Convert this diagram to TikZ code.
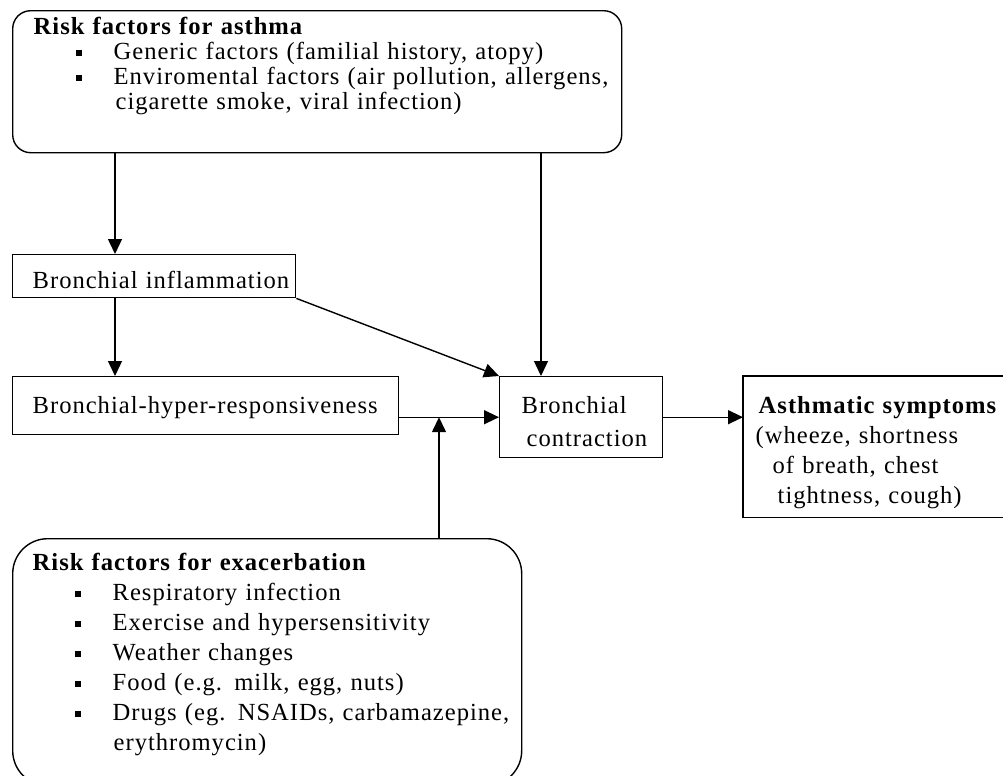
\documentclass[tikz,border=0pt]{standalone}
\usepackage{fontspec}
\setmainfont{Liberation Serif}[LetterSpace=4]
\usetikzlibrary{positioning,arrows.meta,calc}
\newcommand{\vineta}{\rule[2pt]{3pt}{3pt}}
\newcommand{\vinetalinea}[1]{\makebox[40pt][l]{\hspace*{21pt}\vineta}\mbox{#1}}

\begin{document}
\begin{tikzpicture}[x=0.5pt,y=-0.5pt,
  caja/.style={draw, line width=0.7pt, anchor=north west, align=left,
               inner ysep=0pt, font=\fontsize{12.3}{12.5}\selectfont},
  cajaredonda/.style={caja, rounded corners=#1},
  flecha/.style={-{Triangle[length=7.5pt,width=7pt]}, line width=0.7pt}]
  \useasboundingbox (0,0) rectangle (1003,776);
  % cajas
  \node[cajaredonda=9pt, inner xsep=10.5pt, text width=283.5pt,
        text height=12pt, text depth=59pt] (riesgo) at (12,10)
       {\textbf{Risk factors for asthma}\\
        \vinetalinea{Generic factors (familial history, atopy)}\\
        \vinetalinea{Enviromental factors (air pollution, allergens,}\\
        \hspace*{41pt}\mbox{cigarette smoke, viral infection)}};
  \node[caja, inner xsep=10pt, text width=121.5pt,
        text height=17pt, text depth=4.5pt] (inflamacion) at (12,254)
       {\mbox{Bronchial inflammation}};
  \node[caja, inner xsep=10pt, text width=173pt,
        text height=18.5pt, text depth=10.5pt] (hiper) at (12,376)
       {\mbox{Bronchial-hyper-responsiveness}};
  \node[caja, inner xsep=11pt, text width=59.5pt,
        text height=18.5pt, text depth=22pt] (contraccion) at (499,376)
       {\mbox{Bronchial}\\[4pt]\hspace*{2.5pt}\mbox{contraction}};
  \node[caja, draw=none, inner xsep=6pt, text width=140pt,
        text height=18.5pt, text depth=51.5pt,
        font=\fontsize{12.3}{15}\selectfont] (sintomas) at (743,376)
       {\hspace*{1.5pt}\mbox{\textbf{Asthmatic symptoms}}\\
        \mbox{(wheeze, shortness}\\
        \hspace*{8.5pt}\mbox{of breath, chest}\\
        \hspace*{11pt}\mbox{tightness, cough)}};
  % la caja de sintomas sale del margen derecho
  \draw[line width=0.7pt] (sintomas.north east) -- (sintomas.north west)
    -- (sintomas.south west) -- (sintomas.south east);
  \node[cajaredonda=17.5pt, inner xsep=10pt, text width=234.5pt,
        text height=16pt, text depth=107.5pt,
        font=\fontsize{12.3}{15}\selectfont] (exacerbacion) at (12,538)
       {\mbox{\textbf{Risk factors for exacerbation}}\\
        \vinetalinea{Respiratory infection}\\
        \vinetalinea{Exercise and hypersensitivity}\\
        \vinetalinea{Weather changes}\\
        \vinetalinea{Food (e.g. milk, egg, nuts)}\\
        \vinetalinea{Drugs (eg. NSAIDs, carbamazepine,}\\
        \hspace*{40.5pt}\mbox{erythromycin)}};
  % flechas
  \coordinate (colA) at (115,0);
  \coordinate (colB) at (541,0);
  \coordinate (colC) at (439,0);
  \draw[flecha] (riesgo.south -| colA) -- (inflamacion.north -| colA);
  \draw[flecha] (inflamacion.south -| colA) -- (hiper.north -| colA);
  \draw[flecha] (riesgo.south -| colB) -- (contraccion.north -| colB);
  \draw[flecha] (inflamacion.south east) -- (contraccion.north west);
  \draw[flecha] (hiper.east |- contraccion.west) -- (contraccion.west);
  \draw[flecha] (exacerbacion.north -| colC) -- (colC |- contraccion.west);
  \draw[flecha] (contraccion.east) -- (contraccion.east -| sintomas.west);
\end{tikzpicture}
\end{document}
